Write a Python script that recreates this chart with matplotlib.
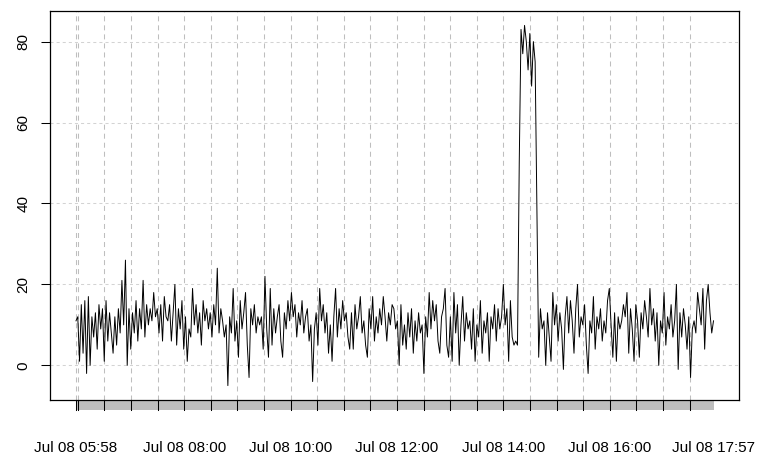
import numpy as np
import pandas as pd
import matplotlib
matplotlib.use("Agg")
import matplotlib.pyplot as plt
import matplotlib.dates as mdates
import matplotlib.transforms as mtrans
from matplotlib.patches import Rectangle

plt.rcParams['font.family'] = ['Liberation Sans', 'DejaVu Sans']
plt.rcParams['lines.scale_dashes'] = False

start_time = "2019-07-08 05:58"
end_time = "2019-07-08 17:57"

seg1 = [11, 12, 1, 15, 3, 16, -2, 17, 0, 12, 7, 13, 4, 15, 9, 14, 1, 16, 6, 13,
        8, 3, 12, 5, 14, 8, 21, 10, 26, 0, 14, 4, 13, 8, 16, 6, 14, 9, 21, 7,
        15, 10, 14, 11, 18, 12, 14, 8, 15, 6, 17, 12]
seg2 = [11, 15, 6, 13, 20, 5, 14, 9, 16, 4, 12, 1, 9, 7, 19, 10, 15, 8, 13, 5,
        16, 11, 14, 9, 13, 7, 15, 10, 24, 8, 14, 11, 7, 10, -5, 12, 8, 19, 6, 11,
        2, 16, 9, 13, 18, 5, -3, 14, 10, 15, 8, 12]
seg3 = [10, 12, 4, 22, 9, 2, 19, 5, 14, 8, 12, 15, 6, 2, 13, 9, 16, 11, 18, 12,
        15, 7, 13, 10, 16, 8, 12, 14, 6, 10, -4, 9, 13, 5, 19, 11, 15, 8, 13, 3,
        10, 1, 12, 19, 7, 14, 9, 16, 11, 13, 7, 4]
seg4 = [13, 4, 15, 9, 12, 17, 8, 11, 5, 2, 14, 9, 17, 6, 12, 8, 14, 10, 17, 12,
        6, 13, 10, 15, 14, 9, 11, 0, 15, 5, 10, 4, 13, 7, 14, 3, 11, 6, 13, 8,
        10, -2, 12, 7, 18, 9, 16, 11, 15, 6, 3, 12]
seg5 = [14, 19, 5, 2, 12, 1, 18, 8, 15, 0, 10, 17, 6, 13, 9, 11, 4, 14, 1, 10,
        7, 16, 3, 11, 8, 13, 1, 12, 9, 15, 6, 14, 9, 12, 20, 10, 14, 1, 16, 7,
        5, 6, 5]
spike = [50, 83, 77, 84, 80, 73, 82, 69, 80, 75, 39]
seg6 = [2, 14, 9, 11, 0, 13, 7, 1, 18, 10, 15, 6, 13, 9, -1, 12, 17, 8, 16, 11,
        3, 14, 20, 7, 12, 10, 15, 5, -2, 11, 8, 17, 4, 12, 9, 14, 6, 11, 8, 16,
        19, 10, 2, 13, 1, 12, 9, 11, 15]
seg7 = [12, 18, 3, 14, 9, 1, 15, 11, 2, 13, 9, 16, 12, 7, 19, 10, 14, 6, 13, 0,
        11, 8, 18, 5, 12, 9, 15, 7, 11, 20, -1, 13, 7, 14, 10, 4, 12, -3, 9, 11,
        8, 18, 14, 10, 19, 4, 16, 20, 13, 8, 11]

values = seg1 + seg2 + seg3 + seg4 + seg5 + spike + seg6 + seg7
times = pd.date_range(start_time, end_time, periods=len(values))

grid_times = ["05:58"] + [f"{h:02d}:{m:02d}" for h in range(6, 18) for m in (0, 30)]
label_times = ["05:58", "08:00", "10:00", "12:00", "14:00", "16:00", "17:57"]
label_texts = ["Jul 08 05:58", "Jul 08 08:00", "Jul 08 10:00", "Jul 08 12:00",
               "Jul 08 14:00", "Jul 08 16:00", "Jul 08 17:57"]
y_ticks = [0, 20, 40, 60, 80]

fig = plt.figure(figsize=(7.75, 4.63), dpi=100)
ax = fig.add_axes([50.5 / 775, 63 / 463, (739 - 50.5) / 775, 389 / 463])

xnum = mdates.date2num(times.to_pydatetime())
x0, x1 = xnum[0], xnum[-1]
span = x1 - x0
ax.set_xlim(x0 - 0.04 * span, x1 + 0.04 * span)
vmin, vmax = min(values), max(values)
r = vmax - vmin
ax.set_ylim(vmin - 0.04 * r, vmax + 0.04 * r)

day = "2019-07-08 "
gnums = [mdates.date2num(pd.Timestamp(day + t).to_pydatetime()) for t in grid_times]
gnums = [g for g in gnums if g <= x1]

# horizontal grid
for yv in y_ticks:
    ax.axhline(yv, color="#D3D3D3", lw=0.75, linestyle=(0, (2.2, 2.2)), zorder=1)
# vertical grid
for g in gnums:
    ax.axvline(g, color="#BEBEBE", lw=0.75, linestyle=(0, (3.6, 2.9)), zorder=1)

ax.plot(xnum, values, color="black", lw=0.7, zorder=3)

# gray band below axes
trans = mtrans.blended_transform_factory(ax.transData, ax.transAxes)
band_h = 10 / 389
ax.add_patch(Rectangle((x0, -band_h), x1 - x0, band_h, transform=trans,
                       facecolor="#BEBEBE", edgecolor="none", clip_on=False, zorder=2))
for g in gnums:
    ax.plot([g, g], [-band_h, 0], transform=trans, color="black", lw=0.75,
            clip_on=False, zorder=3)

lnums = [mdates.date2num(pd.Timestamp(day + t).to_pydatetime()) for t in label_times]
ax.set_xticks(lnums)
ax.set_xticklabels(label_texts)
ax.tick_params(axis="x", length=0, pad=29.5, labelsize=11)

ax.set_yticks(y_ticks)
ax.tick_params(axis="y", length=6.5, width=0.75, pad=8, labelsize=11)
for lab in ax.get_yticklabels():
    lab.set_rotation(90)
    lab.set_va("center")

for s in ax.spines.values():
    s.set_linewidth(0.9)
    s.set_color("black")

fig.savefig("out.png", dpi=100)
